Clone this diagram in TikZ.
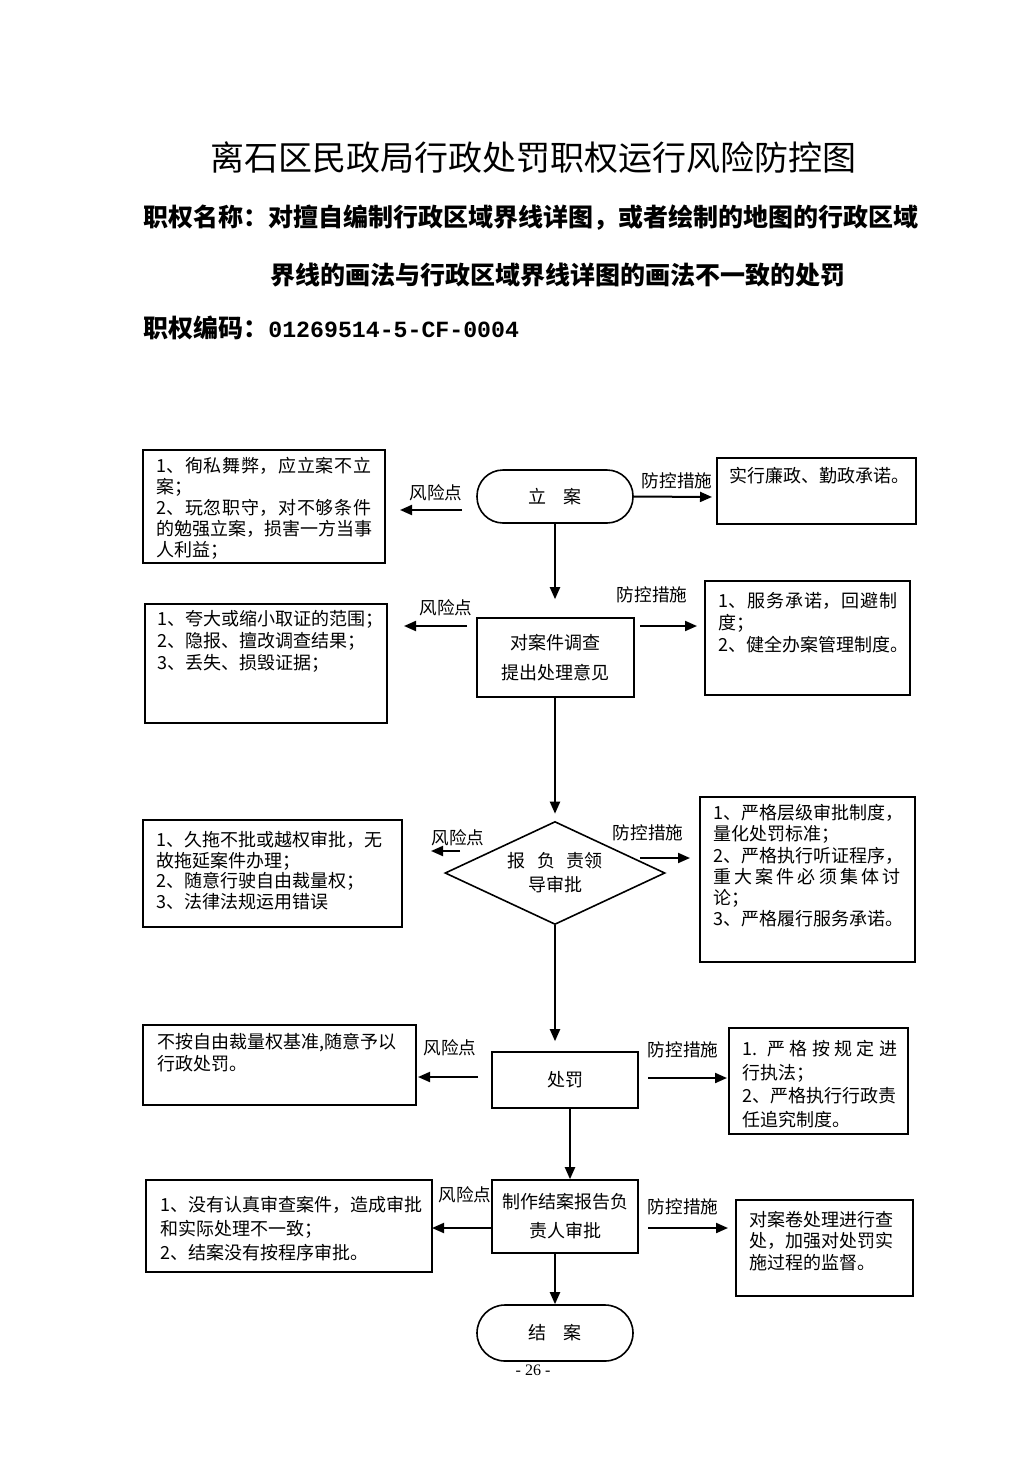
\documentclass[tikz,border=0pt]{standalone}
\usepackage{fontspec}
\setmainfont{Noto Sans CJK SC}
\newfontfamily\monof{Liberation Mono}
\newfontfamily\serifn{Liberation Serif}
\usetikzlibrary{arrows.meta,fit,shapes.geometric}
\newcommand{\myspread}[2]{\makebox[#1][s]{#2}}
\begin{document}
\begin{tikzpicture}[x=0.5pt,y=-0.5pt,
  box/.style={draw,line width=0.8pt,inner sep=0pt},
  flow/.style={box,align=center,font=\fontsize{9}{15}\selectfont},
  stad/.style={flow,rounded corners=13pt},
  txt/.style={anchor=north west,inner sep=0pt,align=left,font=\fontsize{9}{10.6}\selectfont},
  lab/.style={inner sep=0pt,font=\fontsize{8.8}{10}\selectfont},
  arr/.style={-{Triangle[length=6pt,width=5pt]},line width=1pt},
  ln/.style={line width=1pt}]
\useasboundingbox[fill=white] (0,0) rectangle (1033,1461);
% headings
\node[inner sep=0pt,font=\fontsize{17}{20}\selectfont] (title) at (533,158) {离石区民政局行政处罚职权运行风险防控图};
\node[inner sep=0pt,anchor=west,font=\fontsize{12.5}{15}\selectfont\bfseries] (h1) at (143,218) {职权名称：对擅自编制行政区域界线详图，或者绘制的地图的行政区域};
\node[inner sep=0pt,anchor=west,font=\fontsize{12.5}{15}\selectfont\bfseries] (h2) at (270,275) {界线的画法与行政区域界线详图的画法不一致的处罚};
\node[inner sep=0pt,anchor=west,font=\fontsize{12.5}{15}\selectfont\bfseries] (h3) at (143,328) {职权编码：{\monof\fontsize{11.6}{14}\selectfont 01269514-5-CF-0004}};

% flow nodes
\node[stad,minimum width=78pt,minimum height=26.5pt] (n1) at (555,496.5) {立\hspace{0.9em}案};
\node[flow,minimum width=78.5pt,minimum height=39.5pt] (n2) at (555.5,657.5) {对案件调查\\提出处理意见};
\node[draw,line width=0.8pt,diamond,aspect=2,inner sep=0pt,minimum width=110pt,minimum height=51.5pt,align=center,font=\fontsize{9}{12}\selectfont] (n3) at (555,873) {报\hspace{0.7em}负\hspace{0.6em}责领\\导审批};
\node[flow,minimum width=73pt,minimum height=28pt] (n4) at (565,1080) {处罚};
\node[flow,minimum width=73pt,minimum height=36.5pt,font=\fontsize{9}{14.5}\selectfont] (n5) at (565,1216.5) {制作结案报告负\\责人审批};
\node[stad,rounded corners=14pt,minimum width=78pt,minimum height=28pt] (n6) at (555,1333) {结\hspace{0.9em}案};

% side boxes
\node[box,fit={(143,450)(385,563)}] (L1) {};
\node[txt,font=\fontsize{9}{10.5}\selectfont] (L1t) at (156,457) {\myspread{107.5pt}{1、\hfil 徇\hfil 私\hfil 舞\hfil 弊，\hfil 应\hfil 立\hfil 案\hfil 不\hfil 立}\\案；\\\myspread{107.5pt}{2、\hfil 玩\hfil 忽\hfil 职\hfil 守，\hfil 对\hfil 不\hfil 够\hfil 条\hfil 件}\\的勉强立案，损害一方当事\\人利益；};
\node[box,fit={(717,458)(916,524)}] (R1) {};
\node[txt] (R1t) at (729,467) {实行廉政、勤政承诺。};

\node[box,fit={(145,604)(387,723)}] (L2) {};
\node[txt,font=\fontsize{9}{11}\selectfont] (L2t) at (157,610) {1、夸大或缩小取证的范围；\\2、隐报、擅改调查结果；\\3、丢失、损毁证据；};
\node[box,fit={(705,581)(910,695)}] (R2) {};
\node[txt,font=\fontsize{9}{11}\selectfont] (R2t) at (718,592) {\myspread{89.5pt}{1、\hfil 服\hfil 务\hfil 承\hfil 诺，\hfil 回\hfil 避\hfil 制}\\度；\\2、健全办案管理制度。};

\node[box,fit={(143,820)(402,927)}] (L3) {};
\node[txt,font=\fontsize{9}{10.3}\selectfont] (L3t) at (156,831) {1、久拖不批或越权审批，无\\故拖延案件办理；\\2、随意行驶自由裁量权；\\3、法律法规运用错误};
\node[box,fit={(700,797)(915,962)}] (R3) {};
\node[txt,font=\fontsize{9}{10.6}\selectfont] (R3t) at (713,804) {1、严格层级审批制度，\\量化处罚标准；\\2、严格执行听证程序，\\\myspread{93.5pt}{重\hfil 大\hfil 案\hfil 件\hfil 必\hfil 须\hfil 集\hfil 体\hfil 讨}\\论；\\3、严格履行服务承诺。};

\node[box,fit={(143,1025)(416,1105)}] (L4) {};
\node[txt,font=\fontsize{9}{11}\selectfont] (L4t) at (157,1033) {不按自由裁量权基准,随意予以\\行政处罚。};
\node[box,fit={(729,1028)(908,1134)}] (R4) {};
\node[txt,font=\fontsize{9}{11.8}\selectfont] (R4t) at (742,1040) {\myspread{77.5pt}{1.\hspace{0.3em}\hfil 严\hfil 格\hfil 按\hfil 规\hfil 定\hfil 进}\\行执法；\\2、严格执行行政责\\任追究制度。};

\node[box,fit={(146,1180)(432,1272)}] (L5) {};
\node[txt,font=\fontsize{9}{12}\selectfont] (L5t) at (160,1196) {1、没有认真审查案件，造成审批\\和实际处理不一致；\\2、结案没有按程序审批。};
\node[box,fit={(736,1200)(913,1296)}] (R5) {};
\node[txt,font=\fontsize{9}{10.6}\selectfont] (R5t) at (749,1211) {对案卷处理进行查\\处，加强对处罚实\\施过程的监督。};

% labels
\node[lab] (k1) at (436,493) {风险点};
\node[lab] (c1) at (677,481) {防控措施};
\node[lab] (k2) at (446,608) {风险点};
\node[lab] (c2) at (652,595) {防控措施};
\node[lab] (k3) at (458,838) {风险点};
\node[lab] (c3) at (648,833) {防控措施};
\node[lab] (k4) at (450,1048) {风险点};
\node[lab] (c4) at (683,1050) {防控措施};
\node[lab] (k5) at (465,1195) {风险点};
\node[lab] (c5) at (683,1207) {防控措施};

% free-end coordinates of side arrows
\coordinate (a1s) at (462,510); \coordinate (a1e) at (400,510);
\coordinate (b1e) at (712,497);
\coordinate (a2s) at (467,626); \coordinate (a2e) at (404,626);
\coordinate (b2s) at (640,626); \coordinate (b2e) at (697,626);
\coordinate (a3s) at (460,851); \coordinate (a3e) at (431,851);
\coordinate (b3s) at (640,858); \coordinate (b3e) at (690,858);
\coordinate (a4s) at (478,1077); \coordinate (a4e) at (418,1077);
\coordinate (b4s) at (648,1078); \coordinate (b4e) at (727,1078);
\coordinate (a5e) at (432,1228);
\coordinate (b5s) at (648,1228); \coordinate (b5e) at (728,1228);

\draw[arr] (a1s) -- (a1e);
\draw[arr] (n1.east) -- (b1e);
\draw[arr] (a2s) -- (a2e);
\draw[arr] (b2s) -- (b2e);
\draw[arr] (a3s) -- (a3e);
\draw[arr] (b3s) -- (b3e);
\draw[arr] (a4s) -- (a4e);
\draw[arr] (b4s) -- (b4e);
\draw[arr] (n5.west |- a5e) -- (a5e);
\draw[arr] (b5s) -- (b5e);

% main flow
\draw[arr,shorten >=9pt] (n1.south) -- (n1.south |- n2.north);
\draw[arr,shorten >=3.5pt] (n2.south -| n3.north) -- (n3.north);
\draw[arr,shorten >=5pt] (n3.south) -- (n3.south |- n4.north);
\draw[arr] ([xshift=2.5pt]n4.south) -- ([xshift=2.5pt]n4.south |- n5.north);
\draw[arr] (n6.north |- n5.south) -- (n6.north);

\node[inner sep=0pt,font=\serifn\fontsize{8}{9}\selectfont] (pg) at (533,1370) {- 26 -};
\end{tikzpicture}
\end{document}
